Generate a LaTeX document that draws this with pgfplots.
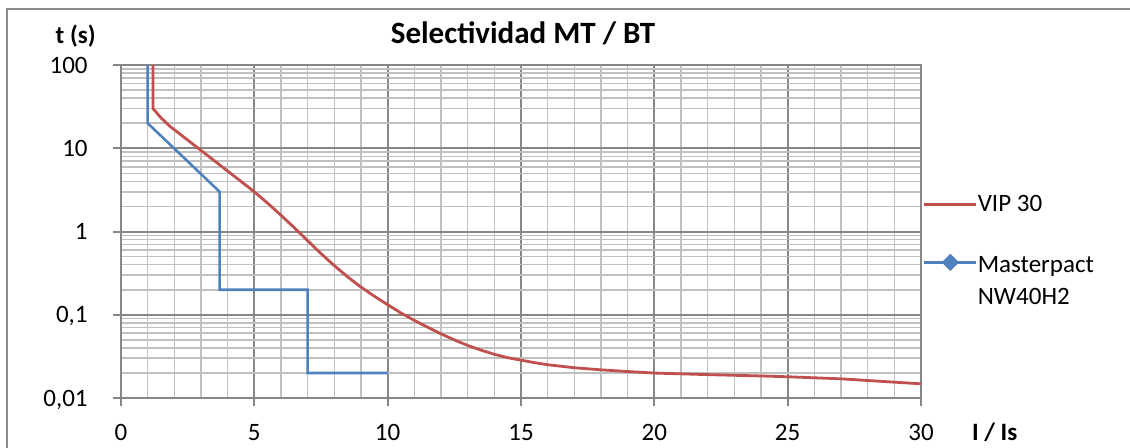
\documentclass[border=0pt]{standalone}
\usepackage{fontspec}
\setmainfont{Carlito}
\usepackage{pgfplots}
\pgfplotsset{compat=1.18}
\definecolor{vipred}{HTML}{C0504D}
\definecolor{mpblue}{HTML}{4F81BD}
\definecolor{gmaj}{HTML}{878787}
\definecolor{gmin}{HTML}{C0C0C0}
\definecolor{framec}{HTML}{8C8C8C}
\begin{document}
\begin{tikzpicture}
\useasboundingbox (-60.5pt,-24.5pt) rectangle (504.5pt,199pt);
\draw[framec, line width=1pt] (-56.75pt,-30pt) -- (-56.75pt,194.5pt) -- (510pt,194.5pt);
\begin{axis}[
  at={(0,0)}, anchor=south west,
  scale only axis, width=400pt, height=166.5pt,
  ymode=log, xmin=0, xmax=30, ymin=0.01, ymax=100,
  xtick={0,5,...,30}, minor x tick num=4,
  ytick={0.01,0.1,1,10,100}, yticklabels={{0,01},{0,1},1,10,100},
  grid=both,
  major grid style={gmaj, line width=1pt},
  minor grid style={gmin, line width=0.8pt},
  axis line style={gmaj, line width=1pt},
  tick align=outside, major tick length=4pt, minor tick length=0pt,
  tick style={gmaj, line width=1pt},
  xtick pos=left, ytick pos=left,
  ticklabel style={font=\fontsize{12.5}{15}\selectfont},
  /pgf/number format/assume math mode=true,
  xticklabel style={anchor=base, inner sep=0pt, yshift=-17pt},
  yticklabel style={anchor=east, inner sep=0pt, text depth=0pt, xshift=-12.5pt},
  legend cell align=left,
  legend style={draw=none, fill=none, at={(axis description cs:1.0025,0.6096)}, anchor=north west,
    inner sep=0pt, outer sep=0pt, row sep=17.6pt, font=\fontsize{12.5}{16.3}\selectfont,
    nodes={inner sep=0pt}, /tikz/every even column/.append style={column sep=3pt}},
  legend image code/.code={\draw[mark repeat=2,mark phase=2] plot coordinates {(0pt,0pt) (13pt,0pt) (26pt,0pt)};},
]
\addplot[vipred, line width=1.4pt, line join=round] coordinates {
(1.2,100) (1.2,30) (1.5,23.2) (1.84,18.3) (4.5,4.0) (5,3.0) (5.5,2.188) (6,1.567) (6.5,1.109) (7,0.776)
(7.5,0.543) (8,0.389) (8.5,0.285) (9,0.215) (9.5,0.167) (10,0.132) (10.5,0.105) (11,0.0855)
(11.5,0.0708) (12,0.059) (12.5,0.0499) (13,0.0428) (13.5,0.0376) (14,0.0335) (14.5,0.0305)
(15,0.0285) (15.5,0.0266) (16,0.0251) (17,0.0231) (18,0.0218) (19,0.0208) (20,0.01995)
(22,0.0191) (24,0.0184) (25,0.018) (27,0.017) (30,0.0148)
};
\addlegendentry{VIP 30}
\addplot[mpblue, line width=1.3pt, forget plot] coordinates {
(1,100) (1,20) (3.7,3) (3.7,0.2) (7,0.2) (7,0.02) (10,0.02)
};
\addlegendimage{mpblue, line width=1.3pt, mark=square*, mark options={rotate=45, solid, fill=mpblue}, mark size=2.4pt}
\addlegendentry{\begin{tabular}[t]{@{}l@{}}Masterpact\\NW40H2\end{tabular}}
\end{axis}
\node[font=\bfseries\fontsize{15.5}{18}\selectfont, anchor=base, inner sep=0pt] at (201pt,177.3pt) {Selectividad MT / BT};
\node[font=\bfseries\fontsize{12.5}{15}\selectfont, anchor=base east, inner sep=0pt] at (-12.5pt,177.5pt) {t (s)};
\node[font=\bfseries\fontsize{12.5}{15}\selectfont, anchor=base west, inner sep=0pt] at (425.3pt,-21pt) {I / Is};
\end{tikzpicture}
\end{document}
